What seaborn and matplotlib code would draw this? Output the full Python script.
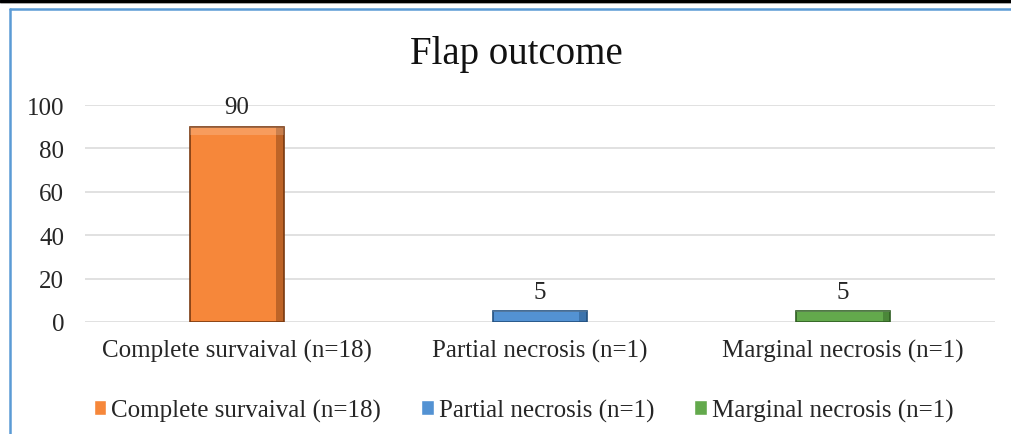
import matplotlib
matplotlib.use('Agg')
import matplotlib.pyplot as plt
import seaborn as sns
from matplotlib.lines import Line2D
from matplotlib.patches import Rectangle

# Flap outcome percentages
categories = ['Complete survaival (n=18)', 'Partial necrosis (n=1)', 'Marginal necrosis (n=1)']
percent = [90, 5, 5]
colors = ['#F6873A', '#5392D3', '#63A94C']
edges = ['#7A3A10', '#23507F', '#2F5E22']

sns.set_style('white')
plt.rcParams['font.family'] = ['Liberation Serif', 'DejaVu Serif']

fig = plt.figure(figsize=(10.12, 4.35), dpi=100)
ax = fig.add_axes([0.084, 0.2575, 0.899, 0.4988])

sns.barplot(x=categories, y=percent, hue=categories, palette=colors,
            width=0.31, legend=True, ax=ax, saturation=1)

for cont, ec in zip(ax.containers, edges):
    for p in cont:
        p.set_edgecolor(ec)
        p.set_linewidth(1.2)
        # bevel: darker right side, lighter top
        x, w, h = p.get_x(), p.get_width(), p.get_height()
        ax.add_patch(Rectangle((x + w * 0.92, 0), w * 0.08, h, color=ec, alpha=0.45, lw=0, zorder=p.get_zorder() + 0.1))
        ax.add_patch(Rectangle((x, h * 0.96), w, h * 0.04, color='white', alpha=0.18, lw=0, zorder=p.get_zorder() + 0.1))
    ax.bar_label(cont, fmt='%d', padding=6, fontsize=18, color='#262626')

ax.set_ylim(0, 100)
ax.set_yticks(range(0, 101, 20))
ax.set_xlim(-0.5, 2.5)
ax.yaxis.grid(True, color='#D9D9D9', linewidth=1.1)
ax.set_axisbelow(True)
for s in ax.spines.values():
    s.set_visible(False)
ax.tick_params(axis='both', length=0, labelsize=18, labelcolor='#262626')
ax.tick_params(axis='y', pad=15)
ax.tick_params(axis='x', pad=12)
ax.set_xlabel('')
ax.set_ylabel('')

ax.set_title('Flap outcome', fontsize=28, color='#111111', pad=30)
ax.title.set_x(0.4746)

handles, labels = ax.get_legend_handles_labels()
leg = ax.legend(handles, labels, loc='upper center', bbox_to_anchor=(0.482, -0.25),
                ncol=3, frameon=False, fontsize=18, handlelength=0.5, handleheight=0.5,
                handletextpad=0.2, columnspacing=1.6)
for t in leg.get_texts():
    t.set_color('#262626')

# outer frame
fig.add_artist(Line2D([0, 1], [0.9955, 0.9955], color='black', linewidth=2.2, transform=fig.transFigure))
fig.add_artist(Line2D([0, 1], [0.990, 0.990], color='#999999', linewidth=0.6, transform=fig.transFigure))
fig.add_artist(Line2D([0.0095, 1], [0.977, 0.977], color='#5B9BD5', linewidth=1.8, transform=fig.transFigure))
fig.add_artist(Line2D([0.0095, 0.0095], [0, 0.977], color='#5B9BD5', linewidth=1.8, transform=fig.transFigure))

fig.savefig('out.png', dpi=100)
